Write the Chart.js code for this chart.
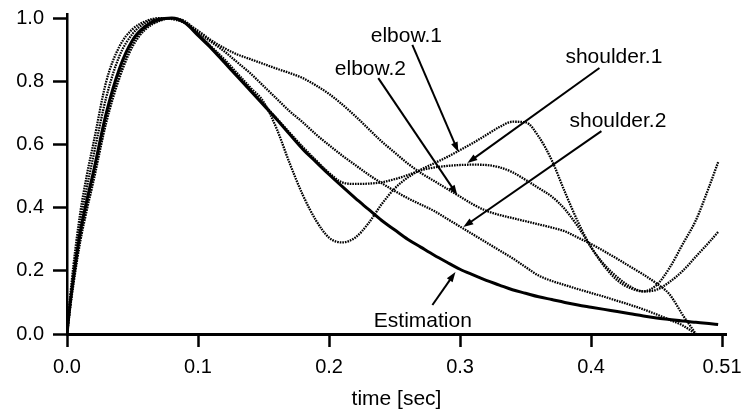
<!DOCTYPE html>
<html><head><meta charset="utf-8">
<script src="https://cdn.jsdelivr.net/npm/chart.js@4.4.0/dist/chart.umd.min.js"></script>
<style>html,body{margin:0;padding:0;background:#fff;}canvas{display:block;}</style>
</head><body>
<canvas id="c" width="743" height="412"></canvas>
<script>
// ---- data ----
const timeSec = [0, 0.0025, 0.005, 0.01, 0.015, 0.02, 0.03, 0.04, 0.05, 0.06, 0.07, 0.08,
  0.09, 0.10, 0.11, 0.12, 0.13, 0.14, 0.15, 0.16, 0.17, 0.18, 0.19, 0.20, 0.21, 0.22, 0.23, 0.24,
  0.25, 0.26, 0.27, 0.28, 0.29, 0.30, 0.31, 0.32, 0.33, 0.34, 0.35, 0.36, 0.37, 0.38, 0.39, 0.40,
  0.41, 0.42, 0.43, 0.44, 0.45, 0.46, 0.47, 0.48, 0.49, 0.497];

const estimation = [0, 0.10, 0.18, 0.32, 0.42, 0.51, 0.70, 0.84, 0.93, 0.975, 0.995, 1.0,
  0.985, 0.945, 0.905, 0.86, 0.815, 0.77, 0.725, 0.68, 0.632, 0.585, 0.545, 0.505, 0.467, 0.43, 0.395, 0.36,
  0.33, 0.30, 0.275, 0.25, 0.227, 0.205, 0.187, 0.17, 0.155, 0.14, 0.129, 0.118, 0.109, 0.10, 0.092, 0.085,
  0.078, 0.071, 0.064, 0.057, 0.051, 0.046, 0.041, 0.037, 0.033, 0.03];

const elbow1 = [0, 0.09, 0.17, 0.30, 0.40, 0.49, 0.68, 0.82, 0.92, 0.97, 0.993, 1.0,
  0.985, 0.95, 0.91, 0.87, 0.825, 0.78, 0.735, 0.65, 0.54, 0.44, 0.36, 0.305, 0.29, 0.305, 0.35, 0.41,
  0.46, 0.495, 0.52, 0.54, 0.56, 0.582, 0.605, 0.63, 0.655, 0.672, 0.67, 0.625, 0.55, 0.45, 0.355, 0.275,
  0.22, 0.18, 0.15, 0.135, 0.155, 0.21, 0.285, 0.36, 0.465, 0.544];

const elbow2 = [0, 0.12, 0.22, 0.38, 0.50, 0.60, 0.80, 0.91, 0.965, 0.99, 1.0, 0.997,
  0.985, 0.96, 0.93, 0.905, 0.885, 0.87, 0.855, 0.84, 0.826, 0.81, 0.787, 0.76, 0.727, 0.69, 0.65, 0.61,
  0.575, 0.54, 0.51, 0.485, 0.46, 0.435, 0.41, 0.39, 0.377, 0.367, 0.357, 0.347, 0.337, 0.325, 0.305, 0.285,
  0.262, 0.238, 0.213, 0.188, 0.16, 0.125, 0.06, 0.0, null, null];

const shoulder1 = [0, 0.085, 0.16, 0.29, 0.39, 0.48, 0.67, 0.81, 0.91, 0.965, 0.99, 1.0,
  0.985, 0.948, 0.907, 0.863, 0.818, 0.773, 0.728, 0.683, 0.637, 0.592, 0.55, 0.51, 0.48, 0.475, 0.476, 0.48,
  0.49, 0.503, 0.518, 0.527, 0.532, 0.535, 0.536, 0.535, 0.528, 0.512, 0.488, 0.462, 0.435, 0.395, 0.34, 0.275,
  0.215, 0.17, 0.145, 0.135, 0.14, 0.165, 0.20, 0.245, 0.29, 0.323];

const shoulder2 = [0, 0.11, 0.20, 0.35, 0.46, 0.56, 0.75, 0.88, 0.95, 0.985, 0.998, 1.0,
  0.99, 0.955, 0.925, 0.895, 0.86, 0.825, 0.785, 0.745, 0.705, 0.67, 0.632, 0.598, 0.565, 0.535, 0.505, 0.478,
  0.453, 0.43, 0.41, 0.39, 0.365, 0.34, 0.315, 0.29, 0.265, 0.24, 0.212, 0.185, 0.168, 0.155, 0.142, 0.13,
  0.118, 0.105, 0.092, 0.078, 0.062, 0.045, 0.027, 0.0, null, null];

const xTickValues = [0, 0.1, 0.2, 0.3, 0.4, 0.5];
const xTickLabels = ['0.0', '0.1', '0.2', '0.3', '0.4', '0.51'];
const yTickValues = [0, 0.2, 0.4, 0.6, 0.8, 1.0];
const yTickLabels = ['0.0', '0.2', '0.4', '0.6', '0.8', '1.0'];

// annotation labels and arrows (data coordinates)
const noteTexts = ['elbow.1', 'elbow.2', 'shoulder.1', 'shoulder.2', 'Estimation'];
const noteTextAt = [[0.259, 0.924], [0.2316, 0.820], [0.4174, 0.8576], [0.4205, 0.655], [0.2716, 0.022]];
const arrowFrom = [[0.2636, 0.915], [0.2376, 0.810], [0.4064, 0.842], [0.4079, 0.642], [0.2789, 0.0918]];
const arrowTo = [[0.2987, 0.576], [0.2979, 0.44], [0.3056, 0.541], [0.3025, 0.3386], [0.2965, 0.196]];

// ---- chart ----
const FONT = 'Liberation Sans, Arial, Helvetica, sans-serif';
function pts(vals) {
  const out = [];
  vals.forEach((v, i) => { if (v !== null) out.push({ x: timeSec[i], y: v }); });
  return out;
}
function dotted(label, vals) {
  return { label, data: pts(vals), borderColor: '#000', borderWidth: 2.3, borderDash: [1.6, 1],
    pointRadius: 0, cubicInterpolationMode: 'monotone', fill: false };
}
const datasets = [
  dotted('elbow.1', elbow1),
  dotted('elbow.2', elbow2),
  dotted('shoulder.1', shoulder1),
  dotted('shoulder.2', shoulder2),
  { label: 'Estimation', data: pts(estimation), borderColor: '#000', borderWidth: 3,
    pointRadius: 0, cubicInterpolationMode: 'monotone', fill: false }
];

const notesPlugin = {
  id: 'notes',
  afterDatasetsDraw(chart) {
    const { ctx, scales: { x, y } } = chart;
    ctx.save();
    ctx.fillStyle = '#000';
    ctx.strokeStyle = '#000';
    ctx.font = '21px ' + FONT;
    ctx.textAlign = 'center';
    ctx.textBaseline = 'alphabetic';
    noteTexts.forEach((t, i) => {
      ctx.fillText(t, x.getPixelForValue(noteTextAt[i][0]), y.getPixelForValue(noteTextAt[i][1]));
      const x0 = x.getPixelForValue(arrowFrom[i][0]), y0 = y.getPixelForValue(arrowFrom[i][1]);
      const x1 = x.getPixelForValue(arrowTo[i][0]), y1 = y.getPixelForValue(arrowTo[i][1]);
      const ang = Math.atan2(y1 - y0, x1 - x0);
      const hl = 10, hw = 3.5;
      ctx.lineWidth = 2;
      ctx.beginPath();
      ctx.moveTo(x0, y0);
      ctx.lineTo(x1 - Math.cos(ang) * hl * 0.8, y1 - Math.sin(ang) * hl * 0.8);
      ctx.stroke();
      ctx.beginPath();
      ctx.moveTo(x1, y1);
      ctx.lineTo(x1 - Math.cos(ang) * hl - Math.sin(ang) * hw, y1 - Math.sin(ang) * hl + Math.cos(ang) * hw);
      ctx.lineTo(x1 - Math.cos(ang) * hl + Math.sin(ang) * hw, y1 - Math.sin(ang) * hl - Math.cos(ang) * hw);
      ctx.closePath();
      ctx.fill();
    });
    ctx.restore();
  }
};

new Chart(document.getElementById('c'), {
  type: 'line',
  data: { datasets },
  plugins: [notesPlugin],
  options: {
    responsive: false,
    animation: false,
    events: [],
    layout: { padding: { top: 14, right: 17, bottom: 0, left: 0 } },
    plugins: { legend: { display: false }, tooltip: { enabled: false } },
    scales: {
      x: {
        type: 'linear', min: 0, max: 0.503,
        afterBuildTicks: s => { s.ticks = xTickValues.map(v => ({ value: v })); },
        afterFit: s => { s.height = 78; s.paddingLeft = 0; s.paddingRight = 0; },
        ticks: { callback: (v, i) => xTickLabels[i], color: '#000', padding: 8, maxRotation: 0, autoSkip: false,
          font: { family: FONT, size: 20 } },
        grid: { drawOnChartArea: false, drawTicks: true, tickLength: 13, tickWidth: 2.5, tickColor: '#000' },
        border: { display: true, color: '#000', width: 3 },
        title: { display: true, text: 'time [sec]', color: '#000', padding: { top: 0, bottom: 0 },
          font: { family: FONT, size: 21 } }
      },
      y: {
        type: 'linear', min: 0, max: 1.013,
        afterBuildTicks: s => { s.ticks = yTickValues.map(v => ({ value: v })); },
        afterFit: s => { s.width = 67; s.paddingTop = 0; s.paddingBottom = 0; },
        ticks: { callback: (v, i) => yTickLabels[i], color: '#000', padding: 9,
          font: { family: FONT, size: 20 } },
        grid: { drawOnChartArea: false, drawTicks: true, tickLength: 14, tickWidth: 2.5, tickColor: '#000' },
        border: { display: true, color: '#000', width: 2.5 }
      }
    }
  }
});
</script>
</body></html>
